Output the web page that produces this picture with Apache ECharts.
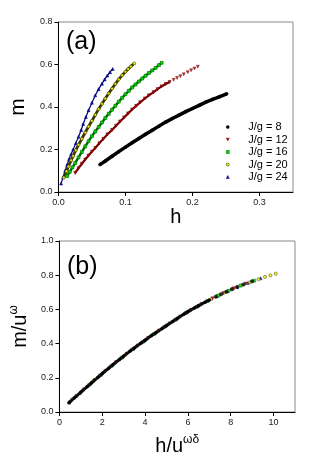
<!DOCTYPE html>
<html>
<head>
<meta charset="utf-8">
<script src="https://cdn.jsdelivr.net/npm/echarts@6/dist/echarts.min.js"></script>
<style>
  html, body { margin: 0; padding: 0; background: #fff; }
  #main { width: 331px; height: 468px; }
</style>
</head>
<body>
<div id="main"></div>
<script>
// series names
const names = ['J/g = 8', 'J/g = 12', 'J/g = 16', 'J/g = 20', 'J/g = 24'];

// panel (a): h, m
const hA8 = [0.062, 0.07, 0.08, 0.09, 0.10, 0.11, 0.12, 0.13, 0.14, 0.15, 0.16, 0.17, 0.18, 0.19, 0.20, 0.21, 0.22, 0.23, 0.24, 0.251];
const mA8 = [0.129, 0.146, 0.168, 0.19, 0.211, 0.232, 0.252, 0.272, 0.291, 0.31, 0.329, 0.346, 0.362, 0.378, 0.393, 0.408, 0.423, 0.436, 0.448, 0.462];

const hA12 = [0.025, 0.03, 0.035, 0.04, 0.045, 0.05, 0.055, 0.061, 0.067, 0.073, 0.08, 0.086, 0.092, 0.098, 0.104, 0.11, 0.116, 0.122, 0.129, 0.135, 0.142, 0.148, 0.154, 0.16, 0.166];
const mA12 = [0.09, 0.112, 0.133, 0.153, 0.172, 0.19, 0.207, 0.229, 0.25, 0.271, 0.292, 0.312, 0.332, 0.351, 0.37, 0.388, 0.405, 0.422, 0.44, 0.455, 0.47, 0.484, 0.497, 0.508, 0.518];
const hA12tail = [0.172, 0.177, 0.182, 0.187, 0.193, 0.198, 0.203, 0.208];
const mA12tail = [0.528, 0.537, 0.545, 0.554, 0.564, 0.573, 0.581, 0.59];

const hA16 = [0.013, 0.017, 0.021, 0.025, 0.03, 0.035, 0.04, 0.045, 0.05, 0.055, 0.06, 0.065, 0.07, 0.075, 0.08, 0.085, 0.09, 0.095, 0.1, 0.105, 0.11, 0.115, 0.12, 0.125, 0.13, 0.135, 0.14, 0.145, 0.15, 0.154];
const mA16 = [0.075, 0.095, 0.116, 0.136, 0.163, 0.189, 0.215, 0.239, 0.263, 0.285, 0.306, 0.327, 0.348, 0.368, 0.387, 0.406, 0.425, 0.443, 0.46, 0.476, 0.492, 0.506, 0.52, 0.534, 0.547, 0.56, 0.572, 0.584, 0.597, 0.608];

const hA20 = [0.008, 0.012, 0.015, 0.019, 0.022, 0.026, 0.03, 0.035, 0.04, 0.045, 0.05, 0.055, 0.06, 0.065, 0.07, 0.075, 0.08, 0.085, 0.09, 0.095, 0.1, 0.104, 0.108, 0.113];
const mA20 = [0.068, 0.098, 0.12, 0.149, 0.17, 0.197, 0.222, 0.251, 0.28, 0.308, 0.335, 0.363, 0.39, 0.415, 0.44, 0.464, 0.487, 0.509, 0.53, 0.549, 0.566, 0.579, 0.591, 0.605];

const hA24 = [0.004, 0.007, 0.01, 0.013, 0.016, 0.019, 0.022, 0.026, 0.03, 0.034, 0.037, 0.041, 0.045, 0.05, 0.055, 0.06, 0.065, 0.069, 0.073, 0.077, 0.081];
const mA24 = [0.04, 0.07, 0.1, 0.128, 0.155, 0.178, 0.2, 0.23, 0.26, 0.292, 0.32, 0.353, 0.385, 0.42, 0.455, 0.484, 0.51, 0.53, 0.548, 0.564, 0.579];

// panel (b): scaled h/u^wd, m/u^w
const xB8 = [0.45, 0.7, 1.0, 1.3, 1.5, 1.8, 2.0, 2.3, 2.5, 2.8, 3.0, 3.3, 3.5, 3.8, 4.0, 4.3, 4.5, 4.8, 5.0, 5.3, 5.5, 5.8, 6.0, 6.3, 6.5, 6.8, 7.0];
const yB8 = [0.055, 0.083, 0.116, 0.149, 0.171, 0.203, 0.225, 0.256, 0.277, 0.307, 0.327, 0.356, 0.375, 0.402, 0.420, 0.447, 0.464, 0.489, 0.506, 0.530, 0.547, 0.571, 0.587, 0.608, 0.622, 0.642, 0.655];
const xB8tail = [7.3, 7.55, 7.8, 8.05, 8.3, 8.6, 9.0];
const yB8tail = [0.674, 0.689, 0.703, 0.718, 0.731, 0.746, 0.764];

const xB12 = [0.6, 1.15, 1.65, 2.15, 2.65, 3.15, 3.65, 4.15, 4.65, 5.15, 5.65, 6.15, 6.65, 7.15, 7.65, 8.15, 8.7];
const yB12 = [0.072, 0.133, 0.187, 0.240, 0.292, 0.342, 0.389, 0.434, 0.477, 0.518, 0.559, 0.598, 0.632, 0.665, 0.695, 0.723, 0.751];

const xB16 = [0.8, 1.4, 1.9, 2.4, 2.9, 3.4, 3.9, 4.4, 4.9, 5.4, 5.9, 6.4, 6.9, 7.4, 7.9, 8.45, 9.1];
const yB16 = [0.094, 0.160, 0.214, 0.267, 0.317, 0.366, 0.411, 0.455, 0.498, 0.539, 0.579, 0.615, 0.649, 0.680, 0.709, 0.739, 0.768];

const xB20 = [0.5, 1.1, 1.6, 2.1, 2.6, 3.1, 3.6, 4.1, 4.6, 5.1, 5.6, 6.1, 6.6, 7.1, 7.45, 7.7, 8.1, 8.5, 8.9, 9.3, 9.6, 9.85, 10.1];
const yB20 = [0.061, 0.127, 0.182, 0.235, 0.287, 0.337, 0.384, 0.429, 0.472, 0.514, 0.555, 0.594, 0.629, 0.661, 0.683, 0.698, 0.721, 0.741, 0.759, 0.777, 0.790, 0.799, 0.809];

const xB24 = [0.45, 0.95, 1.45, 1.95, 2.45, 2.95, 3.45, 3.95, 4.45, 4.95, 5.45, 5.95, 6.45, 6.95, 7.35, 7.85, 8.3, 8.8, 9.4];
const yB24 = [0.055, 0.110, 0.166, 0.219, 0.272, 0.322, 0.370, 0.416, 0.460, 0.502, 0.543, 0.583, 0.619, 0.652, 0.677, 0.706, 0.731, 0.755, 0.782];

// tick labels
const xTicksA = [0, 0.1, 0.2, 0.3];
const xTicksB = [0, 2, 4, 6, 8, 10];

const FONT = 'Liberation Sans';
const downTri = 'path://M0,0 L10,0 L5,9 Z';

function zip(xs, ys) {
  return xs.map((x, i) => [x, ys[i]]);
}

// looks of each J/g set: line colour, marker, fill, border
const looks = [
  { line: '#000000', lw: 3.5, symbol: 'circle', fill: '#000000', border: '#000000', size: 3 },
  { line: '#7a0000', lw: 2.2, symbol: downTri, fill: '#c00000', border: '#600000', size: 3 },
  { line: '#006400', lw: 2.4, symbol: 'rect', fill: '#00d400', border: '#005a00', size: 3 },
  { line: '#3a3a00', lw: 2.8, symbol: 'circle', fill: '#e8e800', border: '#222200', size: 3 },
  { line: '#000080', lw: 1.2, symbol: 'triangle', fill: '#10109a', border: '#000070', size: 3 }
];

function lineSeries(i, data, grid) {
  const k = looks[i];
  return {
    name: names[i],
    type: 'line',
    xAxisIndex: grid,
    yAxisIndex: grid,
    data: data,
    showSymbol: true,
    showAllSymbol: true,
    symbol: k.symbol,
    symbolSize: k.size,
    lineStyle: { color: k.line, width: k.lw },
    itemStyle: { color: k.fill, borderColor: k.border, borderWidth: 0.5 },
    z: 10 - i
  };
}

function dotSeries(i, data, grid, size) {
  const k = looks[i];
  return {
    name: names[i],
    type: 'scatter',
    xAxisIndex: grid,
    yAxisIndex: grid,
    data: data,
    symbol: k.symbol,
    symbolSize: size,
    itemStyle: { color: k.fill, borderColor: k.border, borderWidth: 0.5 },
    z: 10 - i
  };
}

const tickLabel = { fontFamily: FONT, fontSize: 9, color: '#222' };
const axisCommon = {
  axisLine: { lineStyle: { color: '#000', width: 1 } },
  axisTick: { length: 4, lineStyle: { color: '#000' } },
  splitLine: { show: false }
};

const chart = echarts.init(document.getElementById('main'), null, { renderer: 'canvas' });

const option = {
  animation: false,
  backgroundColor: '#fff',
  textStyle: { fontFamily: FONT },
  grid: [
    { left: 56, top: 22, width: 237, height: 170, show: true, borderColor: '#8a8a8a', borderWidth: 1 },
    { left: 57, top: 241, width: 238, height: 171, show: true, borderColor: '#8a8a8a', borderWidth: 1 }
  ],
  xAxis: [
    Object.assign({}, axisCommon, {
      gridIndex: 0, type: 'value', min: 0, max: 0.35,
      name: 'h', nameLocation: 'middle', nameGap: 15,
      nameTextStyle: { fontFamily: FONT, fontSize: 20, color: '#000' },
      axisTick: { length: 4, lineStyle: { color: '#000' }, customValues: xTicksA },
      axisLabel: Object.assign({ margin: 6, customValues: xTicksA, formatter: v => v.toFixed(1) }, tickLabel)
    }),
    Object.assign({}, axisCommon, {
      gridIndex: 1, type: 'value', min: 0, max: 11,
      name: '{a|h/u}{s|ωδ}', nameLocation: 'middle', nameGap: 22,
      nameTextStyle: {
        rich: {
          a: { fontFamily: FONT, fontSize: 20, color: '#000', lineHeight: 24 },
          s: { fontFamily: FONT, fontSize: 12, color: '#000', verticalAlign: 'top', lineHeight: 14 }
        }
      },
      axisTick: { length: 4, lineStyle: { color: '#000' }, customValues: xTicksB },
      axisLabel: Object.assign({ margin: 6, customValues: xTicksB }, tickLabel)
    })
  ],
  yAxis: [
    Object.assign({}, axisCommon, {
      gridIndex: 0, type: 'value', min: 0, max: 0.8, interval: 0.2,
      name: 'm', nameLocation: 'middle', nameGap: 24,
      nameTextStyle: { fontFamily: FONT, fontSize: 21, color: '#000' },
      axisLabel: Object.assign({ margin: 6, formatter: v => v.toFixed(1) }, tickLabel)
    }),
    Object.assign({}, axisCommon, {
      gridIndex: 1, type: 'value', min: 0, max: 1.0, interval: 0.2,
      name: '{a|m/u}{s|ω}', nameLocation: 'middle', nameGap: 24,
      nameTextStyle: {
        rich: {
          a: { fontFamily: FONT, fontSize: 20, color: '#000', lineHeight: 24 },
          s: { fontFamily: FONT, fontSize: 12, color: '#000', verticalAlign: 'top', lineHeight: 14 }
        }
      },
      axisLabel: Object.assign({ margin: 6, formatter: v => v.toFixed(1) }, tickLabel)
    })
  ],
  legend: {
    orient: 'vertical',
    left: 221,
    top: 116,
    itemWidth: 3,
    itemHeight: 3,
    itemGap: 0.5,
    selectedMode: false,
    textStyle: { fontFamily: FONT, fontSize: 11, color: '#000', lineHeight: 12, padding: [0, 0, 0, 14] },
    data: names.map((n, i) => ({
      name: n,
      icon: looks[i].symbol,
      itemStyle: { color: looks[i].fill, borderColor: looks[i].border, borderWidth: 0.5 }
    }))
  },
  graphic: [
    { type: 'text', left: 66, top: 30, style: { text: '(a)', font: '25px "Liberation Sans"', fill: '#000' } },
    { type: 'text', left: 67, top: 255, style: { text: '(b)', font: '25px "Liberation Sans"', fill: '#000' } }
  ],
  series: [
    lineSeries(0, zip(hA8, mA8), 0),
    lineSeries(1, zip(hA12, mA12), 0),
    dotSeries(1, zip(hA12tail, mA12tail), 0, 3),
    lineSeries(2, zip(hA16, mA16), 0),
    lineSeries(3, zip(hA20, mA20), 0),
    lineSeries(4, zip(hA24, mA24), 0),

    Object.assign(lineSeries(0, zip(xB8, yB8), 1), { lineStyle: { color: '#111', width: 3 }, symbolSize: 3 }),
    dotSeries(0, zip(xB8tail, yB8tail), 1, 3.5),
    dotSeries(1, zip(xB12, yB12), 1, 3),
    dotSeries(2, zip(xB16, yB16), 1, 3),
    dotSeries(3, zip(xB20, yB20), 1, 3.2),
    dotSeries(4, zip(xB24, yB24), 1, 3)
  ]
};

chart.setOption(option);
</script>
</body>
</html>
